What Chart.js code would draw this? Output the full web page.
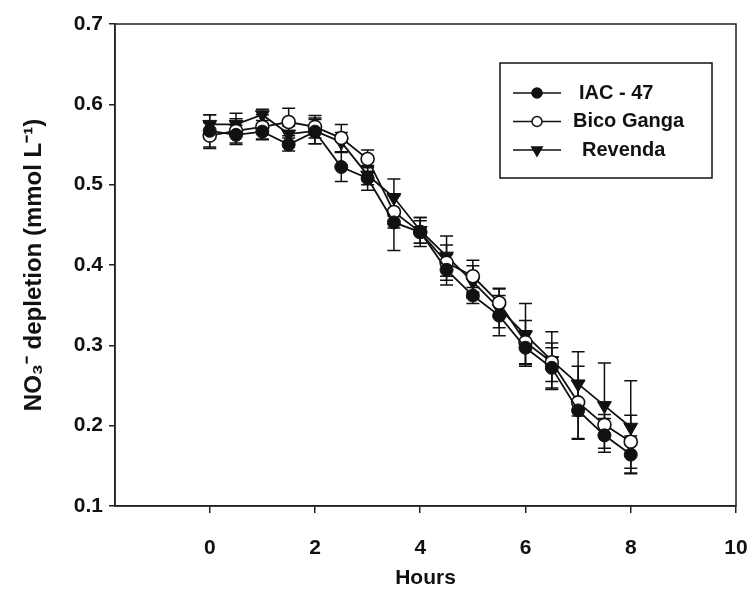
<!DOCTYPE html>
<html lang="en">
<head>
  <meta charset="UTF-8" />
  <title>NO3 depletion</title>
  <script src="https://cdn.jsdelivr.net/npm/chart.js"></script>
  <style>
    body { margin: 0; background: #fff; }
    #wrap { width: 749px; height: 592px; }
  </style>
</head>
<body>
  <div id="wrap"><canvas id="chart"></canvas></div>
  <script>
    // data
    const hours = [0, 0.5, 1, 1.5, 2, 2.5, 3, 3.5, 4, 4.5, 5, 5.5, 6, 6.5, 7, 7.5, 8];
    const iac = [0.567, 0.562, 0.566, 0.550, 0.566, 0.522, 0.508, 0.453, 0.441, 0.394, 0.362, 0.337, 0.297, 0.272, 0.219, 0.188, 0.164];
    const iacErr = [0.020, 0.012, 0.010, 0.008, 0.015, 0.018, 0.015, 0.035, 0.014, 0.019, 0.010, 0.025, 0.021, 0.025, 0.036, 0.021, 0.023];
    const bico = [0.561, 0.567, 0.572, 0.578, 0.572, 0.558, 0.532, 0.466, 0.441, 0.403, 0.386, 0.353, 0.304, 0.279, 0.229, 0.201, 0.180];
    const bicoErr = [0.016, 0.015, 0.015, 0.017, 0.014, 0.017, 0.011, 0.020, 0.018, 0.022, 0.020, 0.018, 0.027, 0.024, 0.045, 0.013, 0.033];
    const revenda = [0.575, 0.575, 0.587, 0.563, 0.567, 0.553, 0.512, 0.484, 0.443, 0.411, 0.379, 0.346, 0.313, 0.281, 0.252, 0.225, 0.198];
    const revendaErr = [0.012, 0.014, 0.007, 0.010, 0.016, 0.012, 0.012, 0.023, 0.016, 0.025, 0.020, 0.024, 0.039, 0.036, 0.040, 0.053, 0.058];
    const xTicks = [0, 2, 4, 6, 8, 10];

    const FONT = "'Liberation Sans', Arial, sans-serif";

    function pts(vals) {
      return hours.map((h, i) => ({ x: h, y: vals[i] }));
    }

    // vertical error bars with caps, drawn through the y scale
    const errorBars = {
      id: 'errorBars',
      beforeDatasetsDraw(chart) {
        const ctx = chart.ctx;
        const ys = chart.scales.y;
        ctx.save();
        ctx.strokeStyle = '#111';
        ctx.lineWidth = 1.5;
        chart.data.datasets.forEach((ds, di) => {
          const meta = chart.getDatasetMeta(di);
          meta.data.forEach((pt, i) => {
            const v = ds.data[i].y, e = ds.err[i];
            const top = ys.getPixelForValue(v + e);
            const bot = ys.getPixelForValue(v - e);
            ctx.beginPath();
            ctx.moveTo(pt.x, top); ctx.lineTo(pt.x, bot);
            ctx.moveTo(pt.x - 6.5, top); ctx.lineTo(pt.x + 6.5, top);
            ctx.moveTo(pt.x - 6.5, bot); ctx.lineTo(pt.x + 6.5, bot);
            ctx.stroke();
          });
        });
        ctx.restore();
      }
    };

    // closed frame + boxed legend inside the plot
    const frameLegend = {
      id: 'frameLegend',
      afterDraw(chart) {
        const ctx = chart.ctx;
        const a = chart.chartArea;
        ctx.save();
        ctx.strokeStyle = '#222';
        ctx.lineWidth = 1.5;
        ctx.strokeRect(a.left, a.top, a.right - a.left, a.bottom - a.top);

        const bx = a.right - 236, by = a.top + 39, bw = 212, bh = 115;
        ctx.lineWidth = 1.5;
        ctx.strokeStyle = '#111';
        ctx.strokeRect(bx, by, bw, bh);
        ctx.font = "bold 20px " + FONT;
        ctx.textBaseline = 'middle';
        ctx.fillStyle = '#111';
        chart.data.datasets.forEach((ds, i) => {
          const y = by + 30 + i * 28.5;
          ctx.strokeStyle = '#111';
          ctx.lineWidth = 1.5;
          ctx.beginPath();
          ctx.moveTo(bx + 13, y); ctx.lineTo(bx + 61, y);
          ctx.stroke();
          ctx.fillStyle = ds.pointBackgroundColor;
          ctx.strokeStyle = '#111';
          Chart.helpers.drawPoint(ctx, {
            pointStyle: ds.pointStyle,
            rotation: ds.pointRotation || 0,
            radius: ds.pointStyle === 'triangle' ? 6 : 5,
            borderWidth: 1.5
          }, bx + 37, y);
          ctx.fillStyle = '#111';
          ctx.fillText(ds.label, bx + ds.legendX, y);
        });
        ctx.restore();
      }
    };

    const ctx = document.getElementById('chart').getContext('2d');
    new Chart(ctx, {
      type: 'scatter',
      data: {
        datasets: [
          {
            label: 'IAC - 47', data: pts(iac), err: iacErr, legendX: 79,
            showLine: true, borderColor: '#111', borderWidth: 1.8,
            pointStyle: 'circle', pointRadius: 6.5, pointBackgroundColor: '#111',
            pointBorderColor: '#111', pointBorderWidth: 1
          },
          {
            label: 'Bico Ganga', data: pts(bico), err: bicoErr, legendX: 73,
            showLine: true, borderColor: '#111', borderWidth: 1.8,
            pointStyle: 'circle', pointRadius: 6.5, pointBackgroundColor: '#fff',
            pointBorderColor: '#111', pointBorderWidth: 1.6
          },
          {
            label: 'Revenda', data: pts(revenda), err: revendaErr, legendX: 82,
            showLine: true, borderColor: '#111', borderWidth: 1.8,
            pointStyle: 'triangle', pointRotation: 180, pointRadius: 8,
            pointBackgroundColor: '#111', pointBorderColor: '#111', pointBorderWidth: 1
          }
        ]
      },
      options: {
        responsive: true,
        maintainAspectRatio: false,
        animation: false,
        layout: { padding: { top: 24, right: 0, left: 0, bottom: 0 } },
        plugins: {
          legend: { display: false },
          tooltip: { enabled: false }
        },
        scales: {
          x: {
            type: 'linear',
            min: -1.8,
            max: 10,
            afterBuildTicks: (s) => { s.ticks = xTicks.map(v => ({ value: v })); },
            afterFit: (s) => { s.height = 86; s.paddingLeft = 0; s.paddingRight = 13; },
            grid: { drawOnChartArea: false, drawTicks: true, tickLength: 7, color: '#222', lineWidth: 1.5 },
            border: { display: true, color: '#222', width: 1.5 },
            ticks: { color: '#111', padding: 23, font: { family: FONT, size: 21, weight: 'bold' } },
            title: {
              display: true, text: 'Hours', color: '#111',
              padding: { top: 0, bottom: 1 },
              font: { family: FONT, size: 21, weight: 'bold' }
            }
          },
          y: {
            min: 0.1,
            max: 0.7,
            afterFit: (s) => { s.width = 115; },
            grid: { drawOnChartArea: false, drawTicks: true, tickLength: 6, color: '#222', lineWidth: 1.5 },
            border: { display: true, color: '#222', width: 1.5 },
            ticks: {
              stepSize: 0.1, color: '#111', padding: 6,
              font: { family: FONT, size: 21, weight: 'bold' },
              callback: (v) => v.toFixed(1)
            },
            title: {
              display: true, text: 'NO₃⁻ depletion (mmol L⁻¹)', color: '#111',
              padding: { top: 20, bottom: 0 },
              font: { family: FONT, size: 24, weight: 'bold' }
            }
          }
        }
      },
      plugins: [errorBars, frameLegend]
    });
  </script>
</body>
</html>
